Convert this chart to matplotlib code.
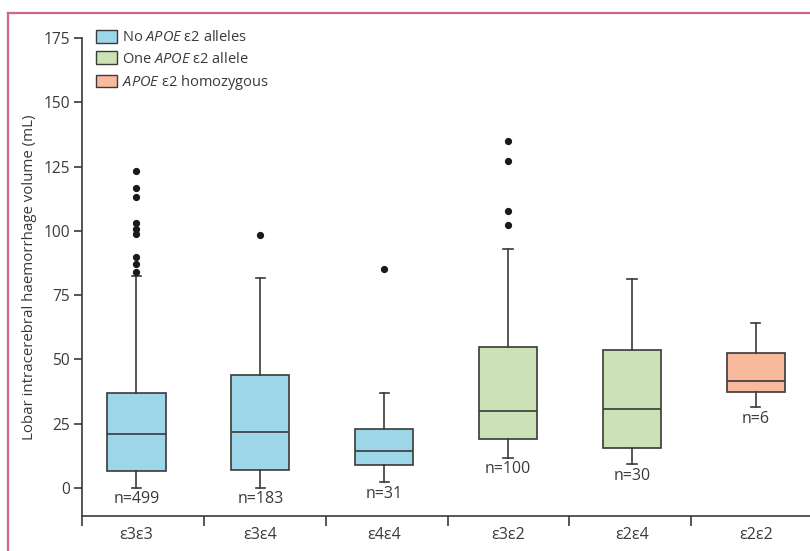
import matplotlib
matplotlib.use("Agg")
import matplotlib.pyplot as plt
from matplotlib.patches import Patch
from matplotlib.lines import Line2D
import numpy as np

plt.rcParams['font.family'] = ['Open Sans', 'DejaVu Sans']
plt.rcParams['mathtext.fontset'] = 'custom'
plt.rcParams['mathtext.it'] = 'Open Sans:italic'
plt.rcParams['mathtext.rm'] = 'Open Sans'

# ---- data ----
genotypes = ["ε3ε3", "ε3ε4", "ε4ε4", "ε3ε2", "ε2ε4", "ε2ε2"]
n_counts = [499, 183, 31, 100, 30, 6]
whisker_low = [0.0, 0.0, 2.2, 11.8, 9.3, 31.4]
q1 = [6.5, 7.0, 8.9, 18.9, 15.4, 37.3]
median = [21.0, 21.6, 14.5, 29.8, 30.9, 41.7]
q3 = [36.9, 43.9, 23.1, 54.7, 53.5, 52.4]
whisker_high = [82.5, 81.8, 36.9, 93.0, 81.3, 64.3]
outliers = [
    [123.3, 116.8, 113.2, 103.1, 100.9, 98.7, 89.8, 87.3, 84.0],
    [98.4],
    [85.2],
    [135.1, 127.3, 107.9, 102.2],
    [],
    [],
]
group = [0, 0, 0, 1, 1, 2]
group_labels = ["No $\\it{APOE}$ ε2 alleles", "One $\\it{APOE}$ ε2 allele", "$\\it{APOE}$ ε2 homozygous"]
group_colors = ["#9dd6e8", "#cce1b5", "#f8b99c"]

dark = "#3a3a3a"

fig = plt.figure(figsize=(8.10, 5.51), dpi=100)
ax = fig.add_axes([82/810, 1-516/551, 730/810, (516-38)/551])

stats = []
for i in range(len(genotypes)):
    stats.append(dict(med=median[i], q1=q1[i], q3=q3[i], whislo=whisker_low[i],
                      whishi=whisker_high[i], fliers=outliers[i], label=genotypes[i]))

positions = np.arange(len(genotypes))
bp = ax.bxp(stats, positions=positions, widths=0.47, capwidths=0.075, patch_artist=True,
            boxprops=dict(edgecolor=dark, linewidth=1.2),
            medianprops=dict(color=dark, linewidth=1.2),
            whiskerprops=dict(color=dark, linewidth=1.2),
            capprops=dict(color=dark, linewidth=1.2),
            flierprops=dict(marker='o', markerfacecolor='#1a1a1a', markeredgecolor='#1a1a1a', markersize=4.2),
            manage_ticks=False)
for i, b in enumerate(bp['boxes']):
    b.set_facecolor(group_colors[group[i]])

for i in range(len(genotypes)):
    ax.annotate(f"n={n_counts[i]}", xy=(positions[i], whisker_low[i]), xytext=(0, -2.5),
                textcoords='offset points', ha='center', va='top', fontsize=11.5, color=dark)

ax.set_xlim(-0.44, 5.454)
ax.set_ylim(-10.9, 175)
ax.set_yticks(np.arange(0, 176, 25))
ax.set_xticks(positions)
ax.set_xticklabels(genotypes)
ax.tick_params(axis='x', which='major', length=0, pad=8, labelsize=11.5, labelcolor=dark)
ax.set_xticks([-0.44, 0.543, 1.528, 2.512, 3.495, 4.477], minor=True)
ax.tick_params(axis='x', which='minor', length=7, width=1.2, color=dark, direction='out')
ax.tick_params(axis='y', length=5.5, width=1.2, color=dark, direction='out', labelsize=11.2, labelcolor=dark, pad=3)
for s in ['top', 'right']:
    ax.spines[s].set_visible(False)
for s in ['left', 'bottom']:
    ax.spines[s].set_color(dark)
    ax.spines[s].set_linewidth(1.2)
ax.spines['left'].set_bounds(-10.9, 175)

ax.set_ylabel("Lobar intracerebral haemorrhage volume (mL)", fontsize=10.8, color=dark, labelpad=5)

handles = [Patch(facecolor=c, edgecolor=dark, linewidth=1.0) for c in group_colors]
fig.legend(handles, group_labels, loc='upper left', bbox_to_anchor=(96/810, 1-30/551),
           frameon=False, fontsize=10.5, handlelength=1.45, handleheight=0.95,
           handletextpad=0.35, labelspacing=0.42, borderpad=0, borderaxespad=0, labelcolor=dark)

# pink frame
frame_col = "#cf6690"
fig.add_artist(Line2D([8/810, 8/810], [0, 1-12.5/551], transform=fig.transFigure, color=frame_col, linewidth=1.6))
fig.add_artist(Line2D([8/810, 1], [1-12.5/551, 1-12.5/551], transform=fig.transFigure, color=frame_col, linewidth=1.6))

fig.savefig("out.png", dpi=100)
